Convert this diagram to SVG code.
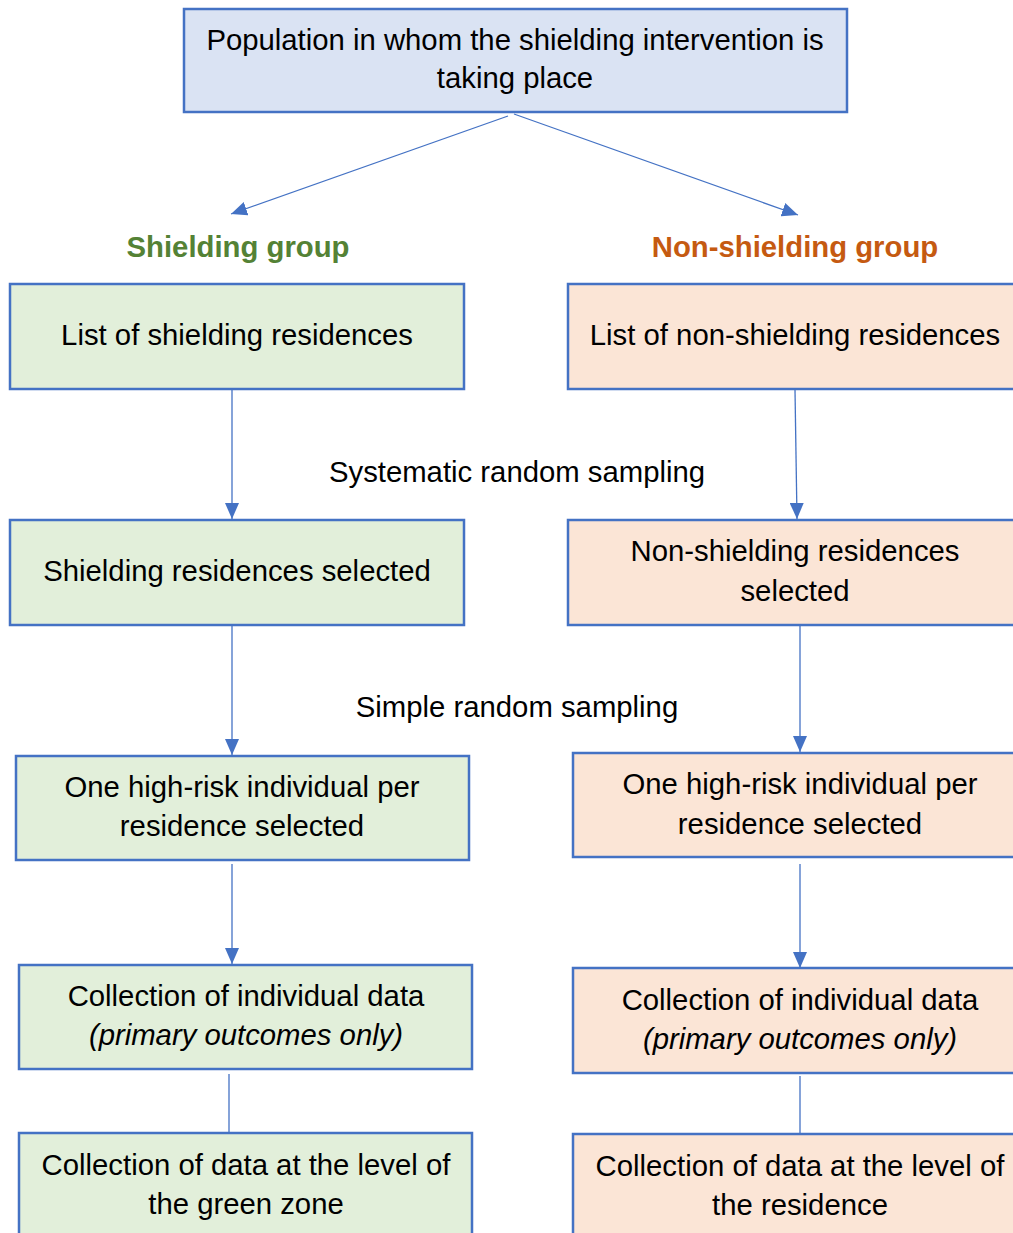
<svg xmlns="http://www.w3.org/2000/svg" width="1013" height="1233" viewBox="0 0 1013 1233">
<style>
text{font-family:"Liberation Sans",Arial,sans-serif;font-size:29.3px;fill:#000;text-anchor:middle}
.box{stroke:#4472C4;stroke-width:2.5}
.blue{fill:#DAE3F3}
.green{fill:#E2EFDA}
.orange{fill:#FBE5D6}
.c{stroke:#4472C4;stroke-width:1.3;fill:none}
.a{marker-end:url(#ah)}
.hg{font-weight:bold;fill:#548235}
.ho{font-weight:bold;fill:#C55A11}
</style>
<defs>
<marker id="ah" markerUnits="userSpaceOnUse" markerWidth="16" markerHeight="14" viewBox="0 0 16 14" refX="16" refY="7" orient="auto">
<path d="M0,0 L16,7 L0,14 z" fill="#4472C4"/>
</marker>
</defs>
<rect width="1013" height="1233" fill="#fff"/>
<g id="connectors">
<line class="c a" x1="508" y1="116" x2="231" y2="214"/>
<line class="c a" x1="514" y1="114" x2="798" y2="215"/>
<line class="c a" x1="232" y1="390" x2="232" y2="519"/>
<line class="c a" x1="795" y1="390" x2="797" y2="519"/>
<line class="c a" x1="232" y1="626" x2="232" y2="755"/>
<line class="c a" x1="800" y1="624" x2="800" y2="752"/>
<line class="c a" x1="232" y1="864" x2="232" y2="964"/>
<line class="c a" x1="800" y1="864" x2="800" y2="968"/>
<line class="c" x1="229" y1="1074" x2="229" y2="1133"/>
<line class="c" x1="800" y1="1076" x2="800" y2="1134"/>
</g>
<g id="population">
<rect class="box blue" x="184" y="9" width="663" height="103"/>
<text x="515" y="50">Population in whom the shielding intervention is</text>
<text x="515" y="88">taking place</text>
</g>
<g id="label-shielding"><text class="hg" x="238" y="257">Shielding group</text></g>
<g id="label-nonshielding"><text class="ho" x="795" y="257">Non-shielding group</text></g>
<g id="list-shielding">
<rect class="box green" x="10" y="284" width="454" height="105"/>
<text x="237" y="345">List of shielding residences</text>
</g>
<g id="list-nonshielding">
<rect class="box orange" x="568" y="284" width="454" height="105"/>
<text x="795" y="345">List of non-shielding residences</text>
</g>
<g id="label-systematic"><text x="517" y="482">Systematic random sampling</text></g>
<g id="selected-shielding">
<rect class="box green" x="10" y="520" width="454" height="105"/>
<text x="237" y="581">Shielding residences selected</text>
</g>
<g id="selected-nonshielding">
<rect class="box orange" x="568" y="520" width="454" height="105"/>
<text x="795" y="561">Non-shielding residences</text>
<text x="795" y="601">selected</text>
</g>
<g id="label-simple"><text x="517" y="717">Simple random sampling</text></g>
<g id="individual-shielding">
<rect class="box green" x="16" y="756" width="453" height="104"/>
<text x="242" y="797">One high-risk individual per</text>
<text x="242" y="836">residence selected</text>
</g>
<g id="individual-nonshielding">
<rect class="box orange" x="573" y="753" width="454" height="104"/>
<text x="800" y="794">One high-risk individual per</text>
<text x="800" y="834">residence selected</text>
</g>
<g id="data-shielding">
<rect class="box green" x="19" y="965" width="453" height="104"/>
<text x="246" y="1006">Collection of individual data</text>
<text x="246" y="1045" font-style="italic">(primary outcomes only)</text>
</g>
<g id="data-nonshielding">
<rect class="box orange" x="573" y="968" width="454" height="105"/>
<text x="800" y="1010">Collection of individual data</text>
<text x="800" y="1049" font-style="italic">(primary outcomes only)</text>
</g>
<g id="zone-shielding">
<rect class="box green" x="19" y="1133" width="453" height="120"/>
<text x="246" y="1175">Collection of data at the level of</text>
<text x="246" y="1214">the green zone</text>
</g>
<g id="residence-nonshielding">
<rect class="box orange" x="573" y="1134" width="454" height="120"/>
<text x="800" y="1176">Collection of data at the level of</text>
<text x="800" y="1215">the residence</text>
</g>
</svg>
